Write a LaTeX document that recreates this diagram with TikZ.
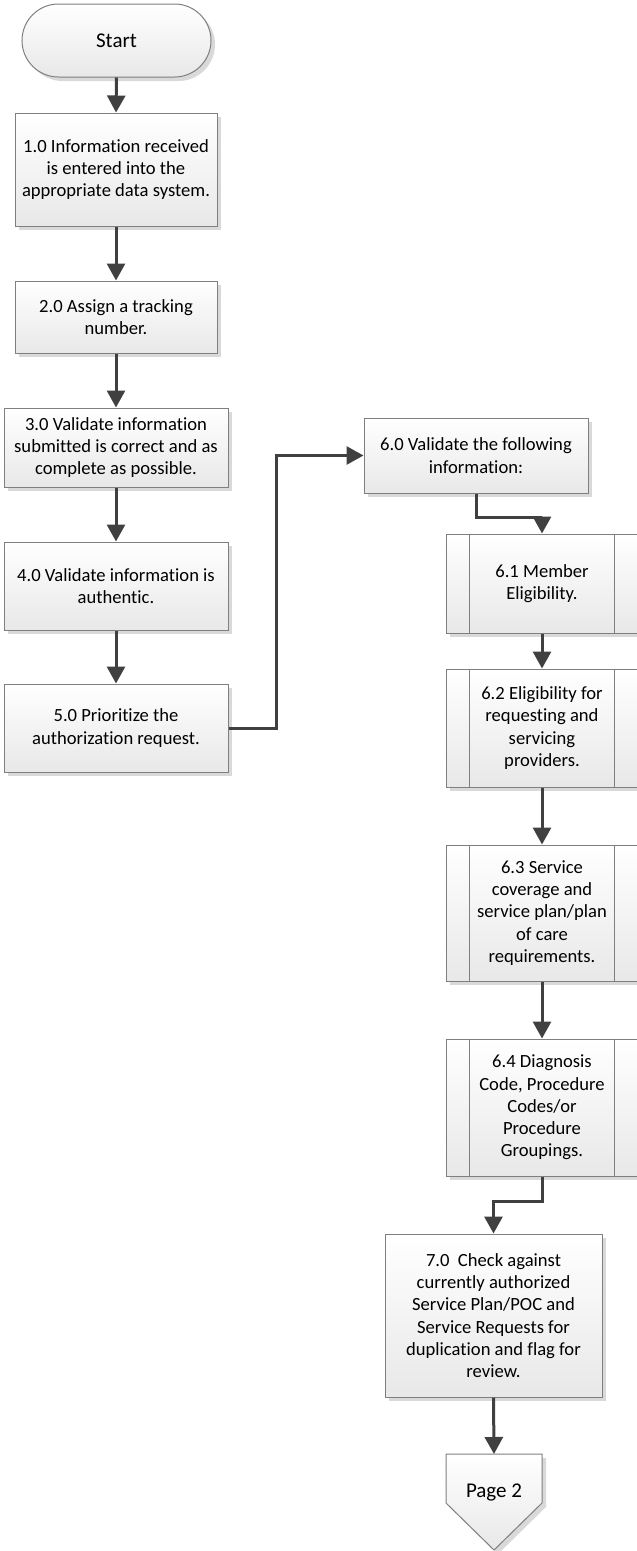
\documentclass[tikz,border=0pt]{standalone}
\usepackage{fontspec}
\setmainfont{Carlito}[Ligatures=NoCommon]
\usetikzlibrary{arrows.meta,shapes.misc,shadows}

\definecolor{edgegray}{HTML}{7F7F7F}
\definecolor{flowgray}{HTML}{404040}
\definecolor{shadegray}{HTML}{D9D9D9}
\definecolor{fillbottom}{HTML}{E8E8E8}

\tikzset{
  boxbase/.style={draw=edgegray, line width=1pt, top color=white, bottom color=fillbottom,
    align=center, inner sep=2pt, font=\fontsize{18.6}{22.3}\selectfont,
    general shadow={fill=shadegray, shadow xshift=4pt, shadow yshift=-4pt}},
  procbox/.style={boxbase, rectangle},
  subbox/.style={boxbase, rectangle},
  termbox/.style={boxbase, rounded rectangle, rounded rectangle arc length=180,
    font=\fontsize{21}{25}\selectfont},
  flow/.style={draw=flowgray, line width=3pt, -{Triangle[length=17pt,width=18pt]}},
  divider/.style={draw=edgegray, line width=1pt},
}

\begin{document}
\begin{tikzpicture}[x=1pt, y=-1pt]
  \useasboundingbox (0,0) rectangle (637,1551);

  % left column
  \node[termbox, minimum width=193pt, minimum height=73pt] (start) at (116.5,40.5) {Start};
  \node[procbox, minimum width=202pt, minimum height=113pt] (b1) at (116,169.5)
    {1.0 Information received\\is entered into the\\appropriate data system.};
  \node[procbox, minimum width=202pt, minimum height=72pt] (b2) at (116,317)
    {2.0 Assign a tracking\\number.};
  \node[procbox, minimum width=224pt, minimum height=79pt] (b3) at (116,447.5)
    {3.0 Validate information\\submitted is correct and as\\complete as possible.};
  \node[procbox, minimum width=224pt, minimum height=88pt] (b4) at (116,586)
    {4.0 Validate information is\\authentic.};
  \node[procbox, minimum width=224pt, minimum height=88pt] (b5) at (116,728)
    {5.0 Prioritize the\\authorization request.};

  % right column
  \node[procbox, minimum width=224pt, minimum height=75pt] (b6) at (476,455.5)
    {6.0 Validate the following\\information:};
  \node[subbox, minimum width=192pt, minimum height=99pt] (b61) at (542,583.5)
    {6.1 Member\\Eligibility.};
  \node[subbox, minimum width=192pt, minimum height=118pt] (b62) at (542,728)
    {6.2 Eligibility for\\requesting and\\servicing\\providers.};
  \node[subbox, minimum width=192pt, minimum height=136pt] (b63) at (542,913)
    {6.3 Service\\coverage and\\service plan/plan\\of care\\requirements.};
  \node[subbox, minimum width=192pt, minimum height=137pt] (b64) at (542,1107.5)
    {6.4 Diagnosis\\Code, Procedure\\Codes/or\\Procedure\\Groupings.};
  \node[procbox, minimum width=217pt, minimum height=163pt] (b7) at (493.5,1315.5)
    {7.0\ \ Check against\\currently authorized\\Service Plan/POC and\\Service Requests for\\duplication and flag for\\review.};

  % side bars of the predefined-process boxes
  \foreach \n in {b61,b62,b63,b64}{
    \draw[divider] ([xshift=24pt]\n.north west) -- ([xshift=24pt]\n.south west);
    \draw[divider] ([xshift=-24pt]\n.north east) -- ([xshift=-24pt]\n.south east);
  }

  % off-page reference
  \fill[shadegray] (450,1458) -- (546,1458) -- (546,1507) -- (498,1554) -- (450,1507) -- cycle;
  \shade[top color=white, bottom color=fillbottom, draw=edgegray, line width=1pt]
    (446,1454) -- (542,1454) -- (542,1503) -- (494,1550) -- (446,1503) -- cycle;
  \node[font=\fontsize{21}{25}\selectfont, minimum width=96pt, minimum height=76pt, inner sep=0pt,
        anchor=north] (pg2) at (494,1454) {\raisebox{-6pt}{Page 2}};

  % connectors
  \draw[flow] (start.south) -- (b1.north);
  \draw[flow] (b1.south) -- (b2.north);
  \draw[flow] (b2.south) -- (b3.north);
  \draw[flow] (b3.south) -- (b4.north);
  \draw[flow] (b4.south) -- (b5.north);
  \draw[flow] (b5.east) -- ++(48,0) |- (b6.west);
  \draw[flow] (b6.south) -- ++(0,24) -| (b61.north);
  \draw[flow] (b61.south) -- (b62.north);
  \draw[flow] (b62.south) -- (b63.north);
  \draw[flow] (b63.south) -- (b64.north);
  \draw[flow] (b64.south) -- ++(0,25) -| (b7.north);
  \draw[flow] (b7.south) -- (pg2.north);
\end{tikzpicture}
\end{document}
